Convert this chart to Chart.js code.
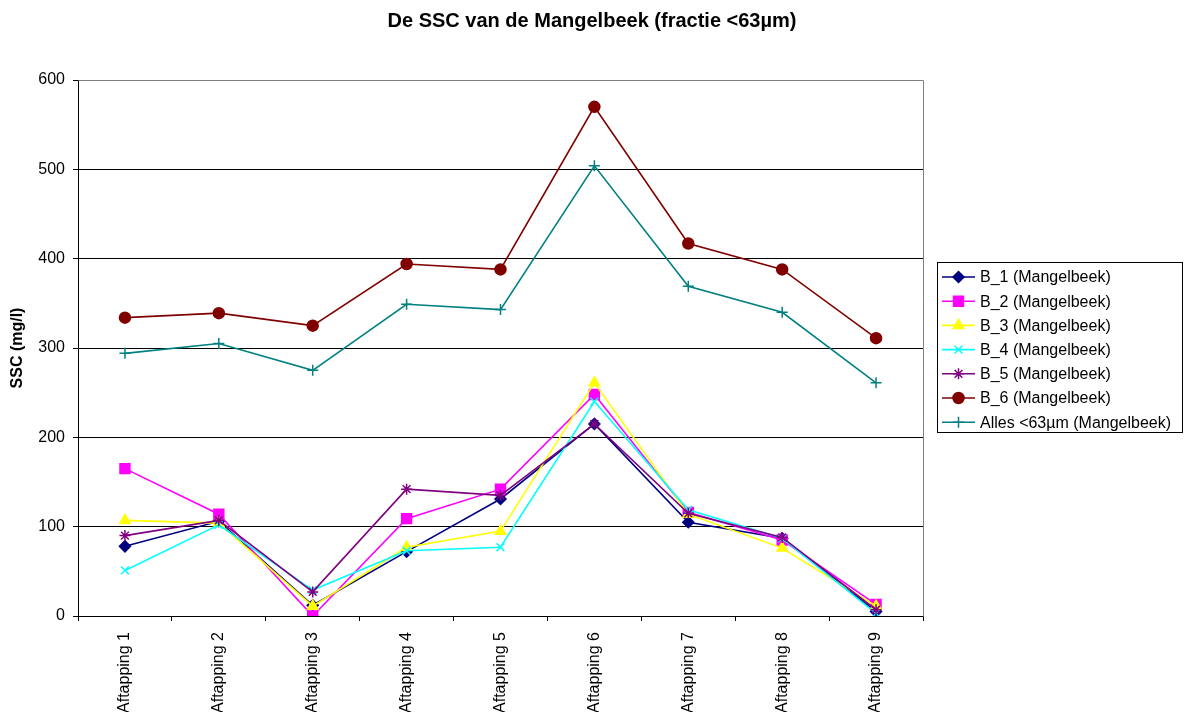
<!DOCTYPE html>
<html>
<head>
<meta charset="utf-8">
<script src="https://cdn.jsdelivr.net/npm/chart.js@4.4.1/dist/chart.umd.min.js"></script>
<style>
  html, body { margin: 0; padding: 0; background: #fff; }
  #wrap { width: 1185px; height: 712px; }
</style>
</head>
<body>
<div id="wrap"><canvas id="ssc" width="1185" height="712"></canvas></div>
<script>
// Aftappingen and SSC (mg/l) per sampler, fraction < 63 µm
const aftappingen = ['Aftapping 1', 'Aftapping 2', 'Aftapping 3', 'Aftapping 4', 'Aftapping 5',
                     'Aftapping 6', 'Aftapping 7', 'Aftapping 8', 'Aftapping 9'];
const b1 = [78, 106, 12, 72, 131, 215, 105, 87, 5];
const b2 = [165, 114, 0, 109, 142, 248, 116, 85, 13];
const b3 = [107, 104, 11, 77, 95, 261, 114, 76, 11];
const b4 = [51, 102, 29, 73, 77, 240, 119, 87, 3];
const b5 = [90, 107, 27, 142, 135, 215, 115, 88, 7];
const b6 = [334, 339, 325, 394, 388, 570, 417, 388, 311];
const alles = [294, 305, 275, 349, 343, 504, 369, 340, 261];
const yTicks = [0, 100, 200, 300, 400, 500, 600];
const chartTitle = 'De SSC van de Mangelbeek (fractie <63µm)';

Chart.defaults.font.family = "'Liberation Sans', Arial, sans-serif";
Chart.defaults.font.size = 16;
Chart.defaults.color = '#000';

function serie(label, data, color, pointStyle, radius, idx) {
    return {
        label: label, data: data,
        borderColor: color, backgroundColor: color,
        pointBackgroundColor: color, pointBorderColor: color,
        pointStyle: pointStyle, pointRadius: radius, pointHoverRadius: radius,
        pointBorderWidth: 1.5, borderWidth: 1.6, tension: 0, fill: false,
        order: 10 - idx
    };
}

const datasets = [
    serie('B_1 (Mangelbeek)', b1, '#000080', 'rectRot', 5.5, 0),
    serie('B_2 (Mangelbeek)', b2, '#FF00FF', 'rect', 7, 1),
    serie('B_3 (Mangelbeek)', b3, '#FFFF00', 'triangle', 6, 2),
    serie('B_4 (Mangelbeek)', b4, '#00FFFF', 'crossRot', 5.5, 3),
    serie('B_5 (Mangelbeek)', b5, '#800080', 'star', 5.5, 4),
    serie('B_6 (Mangelbeek)', b6, '#800000', 'circle', 5.5, 5),
    serie('Alles <63µm (Mangelbeek)', alles, '#008080', 'cross', 5.5, 6)
];

// grey frame on top/right of the plot area, title centred on the page
const plotFrame = {
    id: 'plotFrame',
    beforeDatasetsDraw(chart) {
        const { ctx, chartArea: a } = chart;
        ctx.save();
        ctx.strokeStyle = '#808080';
        ctx.lineWidth = 1;
        ctx.beginPath();
        ctx.moveTo(Math.round(a.left) + 0.5, Math.round(a.top) + 0.5);
        ctx.lineTo(Math.round(a.right) + 0.5, Math.round(a.top) + 0.5);
        ctx.lineTo(Math.round(a.right) + 0.5, Math.round(a.bottom) + 0.5);
        ctx.stroke();

        ctx.fillStyle = '#000';
        ctx.font = "bold 20px 'Liberation Sans', Arial, sans-serif";
        ctx.textAlign = 'center';
        ctx.textBaseline = 'middle';
        ctx.fillText(chartTitle, 592, 21);
        ctx.restore();
    }
};

// boxed legend with line + marker samples
const boxLegend = {
    id: 'boxLegend',
    afterDraw(chart) {
        const ctx = chart.ctx;
        const x0 = 937, y0 = 262, w = 246, h = 171, rowH = 24.2, firstRow = 277;
        ctx.save();
        ctx.fillStyle = '#fff';
        ctx.fillRect(x0, y0, w, h);
        ctx.strokeStyle = '#000';
        ctx.lineWidth = 1;
        ctx.strokeRect(x0 + 0.5, y0 + 0.5, w - 1, h - 1);
        ctx.font = "16px 'Liberation Sans', Arial, sans-serif";
        ctx.textBaseline = 'middle';
        chart.data.datasets.forEach((ds, i) => {
            const y = firstRow + i * rowH;
            ctx.strokeStyle = ds.borderColor;
            ctx.lineWidth = ds.borderWidth;
            ctx.beginPath();
            ctx.moveTo(942, y);
            ctx.lineTo(975, y);
            ctx.stroke();
            ctx.fillStyle = ds.pointBackgroundColor;
            ctx.strokeStyle = ds.pointBorderColor;
            ctx.lineWidth = ds.pointBorderWidth;
            Chart.helpers.drawPoint(ctx, { pointStyle: ds.pointStyle, radius: ds.pointRadius, rotation: 0, borderWidth: ds.pointBorderWidth }, 958.5, y);
            ctx.fillStyle = '#000';
            ctx.fillText(ds.label, 980, y + 1);
        });
        ctx.restore();
    }
};

new Chart(document.getElementById('ssc'), {
    type: 'line',
    data: { labels: aftappingen, datasets: datasets },
    options: {
        responsive: false, animation: false,
        layout: { padding: { left: 0, right: 262, top: 80, bottom: 0 } },
        plugins: {
            legend: { display: false },
            tooltip: { enabled: false },
            title: { display: false }
        },
        scales: {
            x: {
                type: 'category', offset: true,
                grid: { display: true, offset: true, drawOnChartArea: false, drawTicks: true, tickLength: 5, color: '#000' },
                border: { display: true, color: '#000', width: 1 },
                ticks: { minRotation: 90, maxRotation: 90, padding: 11, autoSkip: false, font: { size: 16 }, color: '#000' },
                afterFit(scale) { scale.height = 96; }
            },
            y: {
                min: 0, max: 600,
                afterBuildTicks(scale) { scale.ticks = yTicks.map(v => ({ value: v })); },
                grid: { color: '#000', lineWidth: 1, drawTicks: true, tickLength: 5 },
                border: { display: true, color: '#000', width: 1 },
                ticks: { padding: 8, font: { size: 16 }, color: '#000' },
                title: { display: true, text: 'SSC (mg/l)', font: { size: 16, weight: 'bold' }, color: '#000', padding: { top: 8, bottom: 0 } },
                afterFit(scale) { scale.width = 78; }
            }
        }
    },
    plugins: [plotFrame, boxLegend]
});
</script>
</body>
</html>
